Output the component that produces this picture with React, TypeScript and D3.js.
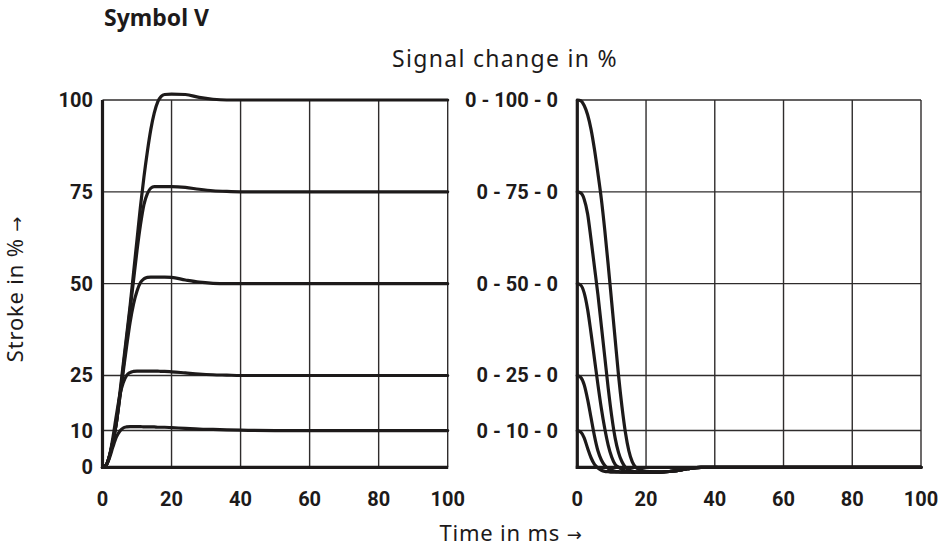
import React from "react";
import * as d3 from "d3";

// ---- data ----
const xTicks = [0, 20, 40, 60, 80, 100];
const yLevels = [10, 25, 50, 75, 100];
const leftYTickLabels = ["0", "10", "25", "50", "75", "100"];
const leftYTickValues = [0, 10, 25, 50, 75, 100];
const rightLabels = ["0 - 10 - 0", "0 - 25 - 0", "0 - 50 - 0", "0 - 75 - 0", "0 - 100 - 0"];

const time = [0, 1, 2, 3, 4, 5, 6, 7, 8, 9, 10, 11, 12, 13, 14, 15, 16, 17, 18, 20, 24, 28, 32, 36, 40, 50, 100];

// step responses (rise)
const rise100 = [0, 0.5, 3, 7, 12, 20, 28, 36, 44, 53, 62, 71, 79, 86, 92, 96.5, 99.5, 101, 101.5, 101.6, 101.5, 100.7, 100.2, 100, 100, 100, 100];
const rise75 = [0, 0.5, 3, 7, 12, 19, 27, 35, 43, 51, 59, 66, 71.5, 74.5, 76, 76.4, 76.4, 76.4, 76.4, 76.4, 76.2, 75.7, 75.3, 75.1, 75, 75, 75];
const rise50 = [0, 0.5, 3, 7, 12, 19, 26, 33, 39.5, 44.5, 48, 50.3, 51.3, 51.7, 51.8, 51.8, 51.8, 51.8, 51.8, 51.7, 51, 50.4, 50.1, 50, 50, 50, 50];
const rise25 = [0, 0.5, 3, 8, 14, 19.5, 23, 25, 25.8, 26.1, 26.2, 26.2, 26.2, 26.2, 26.2, 26.2, 26.2, 26.1, 26.1, 26, 25.7, 25.4, 25.2, 25.1, 25, 25, 25];
const rise10 = [0, 0.5, 2.5, 5.5, 8.2, 9.8, 10.7, 11, 11.1, 11.1, 11.1, 11.1, 11, 11, 11, 11, 10.9, 10.9, 10.9, 10.8, 10.6, 10.4, 10.3, 10.2, 10.1, 10, 10];

// signal 0-x-0 responses (fall)
const fall100 = [100, 99.8, 98.5, 96, 92, 86.5, 80, 73, 64.5, 55, 45, 35, 25, 16.5, 9.5, 4.5, 1.5, 0, -0.6, -1.1, -1.3, -1, -0.4, 0, 0, 0, 0];
const fall75 = [75, 74.7, 73, 69, 62, 54.5, 47, 38.5, 30, 21.5, 14, 8, 4, 1.5, 0, -0.7, -1, -1.2, -1.3, -1.3, -1.3, -1, -0.4, 0, 0, 0, 0];
const fall50 = [50, 49.6, 47.5, 43, 36.5, 29.5, 22.5, 16, 10.5, 6, 2.8, 0.8, 0, -0.6, -1, -1.2, -1.3, -1.3, -1.3, -1.3, -1.3, -1, -0.4, 0, 0, 0, 0];
const fall25 = [25, 24.5, 22.5, 18.5, 13.5, 8.5, 4.5, 2, 0.5, -0.3, -0.8, -1.1, -1.2, -1.3, -1.3, -1.3, -1.3, -1.3, -1.3, -1.3, -1.3, -1, -0.4, 0, 0, 0, 0];
const fall10 = [10, 9.6, 8, 5.2, 2.6, 0.8, -0.2, -0.8, -1.1, -1.2, -1.3, -1.3, -1.3, -1.3, -1.3, -1.3, -1.3, -1.3, -1.3, -1.3, -1.3, -1, -0.4, 0, 0, 0, 0];

const riseSeries = [rise100, rise75, rise50, rise25, rise10];
const fallSeries = [fall100, fall75, fall50, fall25, fall10];

const W = 941;
const H = 546;
const yScale = d3.scaleLinear().domain([0, 100]).range([467.3, 100]);
const xLeft = d3.scaleLinear().domain([0, 100]).range([102.5, 447.7]);
const xRight = d3.scaleLinear().domain([0, 100]).range([577.3, 921]);

const INK = "#1d1a1a";
const GRID = "#2f2c2c";
const tickFont = "Roboto, 'Liberation Sans', sans-serif";
const textFont = "'Noto Sans', 'Open Sans', sans-serif";
const arrowFont = "'DejaVu Sans', sans-serif";

function Panel({ x, series }: { x: d3.ScaleLinear<number, number>; series: number[][] }) {
  const line = d3
    .line<number>()
    .x((_, i) => x(time[i]))
    .y((d) => yScale(d))
    .curve(d3.curveMonotoneX);
  const [x0, x1] = x.range();
  const [yb, yt] = yScale.range();
  return (
    <g>
      {yLevels.map((v) => (
        <line key={"h" + v} x1={x0} x2={x1} y1={yScale(v)} y2={yScale(v)} stroke={GRID} strokeWidth={1.4} />
      ))}
      {xTicks.slice(1).map((t) => (
        <line key={"v" + t} x1={x(t)} x2={x(t)} y1={yt} y2={yb} stroke={GRID} strokeWidth={1.4} />
      ))}
      {series.map((s, i) => (
        <path key={i} d={line(s) || ""} fill="none" stroke={INK} strokeWidth={3.2} strokeLinejoin="round" strokeLinecap="round" />
      ))}
      <line x1={x0} x2={x0} y1={yt} y2={yb + 1.5} stroke={INK} strokeWidth={3.2} />
      <line x1={x0 - 1.5} x2={x1 + 0.5} y1={yb} y2={yb} stroke={INK} strokeWidth={3.2} />
      {xTicks.map((t) => (
        <text key={"xt" + t} x={x(t)} y={506} textAnchor="middle" fontFamily={tickFont} fontWeight={700} fontSize={20} fill={INK}>
          {t}
        </text>
      ))}
    </g>
  );
}

export default function App() {
  return (
    <svg width={W} height={H} style={{ position: "absolute", left: 0, top: 0, background: "#fff" }}>
      <rect width={W} height={H} fill="#fff" />
      <text x={104} y={26} fontFamily={textFont} fontWeight={700} fontSize={23} fill={INK}>
        Symbol V
      </text>
      <text x={505} y={67} textAnchor="middle" fontFamily={textFont} fontSize={23} letterSpacing={1.3} fill={INK}>
        Signal change in %
      </text>
      <text transform={`translate(23,${289}) rotate(-90)`} textAnchor="middle" fontFamily={textFont} fontSize={22} letterSpacing={0.8} fill={INK}>
        Stroke in %{" "}
        <tspan fontFamily={arrowFont} fontSize={18}>→</tspan>
      </text>
      <text x={511} y={541} textAnchor="middle" fontFamily={textFont} fontSize={22} letterSpacing={0.8} fill={INK}>
        Time in ms{" "}
        <tspan fontFamily={arrowFont} fontSize={18}>→</tspan>
      </text>
      <Panel x={xLeft} series={riseSeries} />
      <Panel x={xRight} series={fallSeries} />
      {leftYTickValues.map((v, i) => (
        <text key={"ly" + v} x={93} y={yScale(v) + 7} textAnchor="end" fontFamily={tickFont} fontWeight={700} fontSize={20} fill={INK}>
          {leftYTickLabels[i]}
        </text>
      ))}
      {yLevels.map((v, i) => (
        <text key={"ry" + v} x={558} y={yScale(v) + 7} textAnchor="end" fontFamily={tickFont} fontWeight={700} fontSize={20} fill={INK}>
          {rightLabels[i]}
        </text>
      ))}
    </svg>
  );
}
